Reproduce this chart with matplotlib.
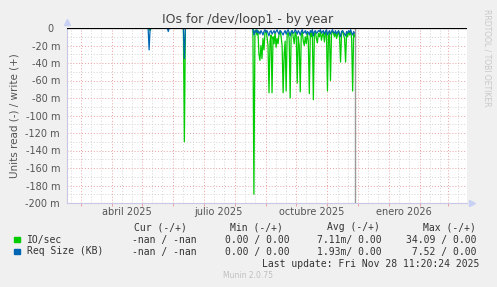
import matplotlib
matplotlib.use("Agg")
import matplotlib.pyplot as plt
import matplotlib.dates as mdates
import numpy as np
import pandas as pd

# ---------------------------------------------------------------
# Data (read values, in milli-units; drawn below zero)
# ---------------------------------------------------------------
series_start = "2025-02-15"
now_date = "2025-11-28"

spike_dates = ["2025-05-08", "2025-05-09", "2025-05-27", "2025-06-12"]
spike_io = [0, 3, 0, 130]
spike_req = [25, 0, 4, 35]

dense_start = "2025-08-20"
dense_io = [190, 5, 2, 8, 3, 30, 37, 20, 35, 12, 25, 5, 3, 10, 20, 74, 15, 8, 74, 10,
            18, 5, 22, 12, 18, 6, 3, 10, 20, 74, 30, 15, 72, 8, 5, 12, 80, 6, 3, 10,
            18, 5, 8, 63, 10, 20, 73, 8, 4, 15, 20, 10, 18, 6, 15, 75, 5, 10, 3, 82,
            8, 4, 12, 17, 6, 10, 3, 14, 8, 5, 16, 6, 3, 72, 10, 5, 60, 8, 3, 6,
            10, 4, 12, 8, 3, 10, 39, 6, 3, 8, 12, 39, 5, 10, 4, 8, 3, 12, 72, 6, 10]
dense_req = [8, 3, 5, 2, 6, 4, 7, 3, 5, 8, 4, 2, 5, 3, 6, 9, 4, 3, 7, 5,
             3, 6, 4, 2, 5, 7, 3, 4, 6, 8, 5, 3, 7, 4, 2, 5, 9, 4, 3, 6,
             5, 2, 4, 7, 3, 5, 8, 4, 2, 6, 5, 3, 7, 4, 5, 8, 3, 5, 2, 9,
             4, 3, 6, 5, 3, 4, 2, 6, 4, 3, 7, 4, 2, 8, 5, 3, 7, 4, 2, 5,
             6, 3, 7, 5, 3, 6, 10, 4, 3, 5, 7, 9, 4, 6, 3, 5, 2, 6, 8, 4, 6]

y_ticks = [0, -20, -40, -60, -80, -100, -120, -140, -160, -180, -200]
y_labels = ["0  "] + [f"{v} m" for v in y_ticks[1:]]
x_label_dates = ["2025-04-16", "2025-07-16", "2025-10-16", "2026-01-16"]
x_labels = ["abril 2025", "julio 2025", "octubre 2025", "enero 2026"]

legend_names = ["IO/sec", "Req Size (KB)"]
legend_colors = ["#00CC00", "#0066B3"]
col_headers = ["Cur (-/+)", "Min (-/+)", "Avg (-/+)", "Max (-/+)"]
col_values = [["-nan / -nan", "0.00 / 0.00", "7.11m/ 0.00", "34.09 / 0.00"],
              ["-nan / -nan", "0.00 / 0.00", "1.93m/ 0.00", " 7.52 / 0.00"]]

# ---------------------------------------------------------------
# Build daily series
# ---------------------------------------------------------------
days = pd.date_range(series_start, now_date, freq="D")
io = pd.Series(0.0, index=days)
req = pd.Series(0.0, index=days)
for d, a, b in zip(spike_dates, spike_io, spike_req):
    io[pd.Timestamp(d)] = a
    req[pd.Timestamp(d)] = b
io.loc[pd.date_range(dense_start, periods=len(dense_io))] = dense_io
req.loc[pd.date_range(dense_start, periods=len(dense_req))] = dense_req

# ---------------------------------------------------------------
# Figure
# ---------------------------------------------------------------
W, H = 497, 287
fig = plt.figure(figsize=(W / 100, H / 100), dpi=100, facecolor="#F0F0F0")
ax = fig.add_axes([67 / W, 84 / H, 400 / W, 175 / H])
ax.set_facecolor("white")

x0 = pd.Timestamp("2025-02-15 12:00")
x1 = pd.Timestamp("2026-03-19 12:00")
ax.set_xlim(x0, x1)
ax.set_ylim(-200, 0)

# grid: minor gray, major red
month_starts = pd.date_range("2025-03-01", "2026-03-01", freq="MS")
for m in month_starts:
    for dd in (10, 20):
        ax.axvline(m + pd.Timedelta(days=dd), color="#D4D4D4", lw=0.7, ls=(0, (1, 2)), zorder=1)
ax.axvline(pd.Timestamp("2025-02-19"), color="#D4D4D4", lw=0.7, ls=(0, (1, 2)), zorder=1)
for v in range(-190, 0, 20):
    ax.axhline(v, color="#D4D4D4", lw=0.7, ls=(0, (1, 2)), zorder=1)
for m in month_starts:
    ax.axvline(m, color="#EBA0A0", lw=0.7, ls=(0, (1, 2)), zorder=1.5)
for v in y_ticks[1:-1]:
    ax.axhline(v, color="#EBA0A0", lw=0.7, ls=(0, (1, 2)), zorder=1.5)

ax.plot(io.index, -io.values, color=legend_colors[0], lw=0.9, zorder=3)
ax.plot(req.index, -req.values, color=legend_colors[1], lw=0.9, zorder=4)
ax.axvline(pd.Timestamp(now_date), color="#999999", lw=1.0, zorder=5)
ax.axhline(0, color="black", lw=0.9, zorder=6)

for s in ("top", "right"):
    ax.spines[s].set_visible(False)
for s in ("left", "bottom"):
    ax.spines[s].set_color("#C8C8E6")
    ax.spines[s].set_linewidth(0.8)
ax.plot([0], [1.035], marker="^", ms=4, color="#C8D0F4", transform=ax.transAxes, clip_on=False)
ax.plot([1.012], [0], marker=">", ms=4, color="#C8D0F4", transform=ax.transAxes, clip_on=False)

ax.set_yticks(y_ticks)
ax.set_yticklabels(y_labels, fontsize=7, color="#555555")
ax.tick_params(axis="y", length=0, pad=5)

ax.set_xticks(list(month_starts))
ax.set_xticklabels([""] * len(month_starts))
ax.tick_params(axis="x", which="major", length=2, color="#EBA0A0", width=0.7)
ax.set_xticks(pd.to_datetime(x_label_dates), minor=True)
ax.set_xticklabels(x_labels, minor=True, fontsize=7, color="#555555")
ax.tick_params(axis="x", which="minor", length=0, pad=3)

ax.set_ylabel("Units read (-) / write (+)", fontsize=7.5, color="#555555", labelpad=4)

fig.text(248 / W, 1 - 19 / H, "IOs for /dev/loop1 - by year", ha="center", va="center",
         fontsize=9, color="#444444")
fig.text(487 / W, 1 - 58 / H, "RRDTOOL / TOBI OETIKER", rotation=270, ha="center",
         va="center", fontsize=5.5, color="#C8C8C8")

# legend block
mono = "DejaVu Sans Mono"
col_x = [134, 230, 327, 423]
val_x = [132, 225, 317, 406]
for cx, h in zip(col_x, col_headers):
    fig.text(cx / W, 1 - 227.5 / H, h, ha="left", va="center", fontsize=7,
             family=mono, color="#333333")
for r, (name, col) in enumerate(zip(legend_names, legend_colors)):
    yy = 239.5 + 12 * r
    fig.patches.append(plt.Rectangle((14 / W, 1 - (yy + 2.5) / H), 5.5 / W, 5.5 / H,
                                     transform=fig.transFigure, color=col))
    fig.text(27 / W, 1 - yy / H, name, ha="left", va="center", fontsize=7,
             family=mono, color="#333333")
    for vx, val in zip(val_x, col_values[r]):
        fig.text(vx / W, 1 - yy / H, val, ha="left", va="center", fontsize=7,
                 family=mono, color="#333333")
fig.text(262 / W, 1 - 264 / H, "Last update: Fri Nov 28 11:20:24 2025", ha="left",
         va="center", fontsize=7, family=mono, color="#333333")
fig.text(223 / W, 1 - 276 / H, "Munin 2.0.75", ha="left", va="center", fontsize=5.5,
         color="#C0C0C0")

fig.savefig("out.png", dpi=100, facecolor=fig.get_facecolor())
